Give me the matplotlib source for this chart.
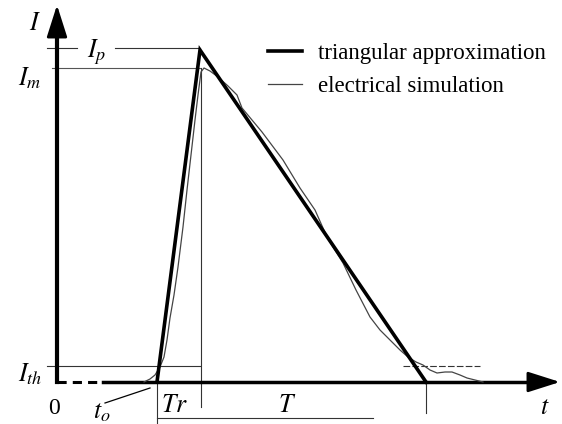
import matplotlib
matplotlib.use("Agg")
import matplotlib.pyplot as plt

plt.rcParams["font.family"] = ["Liberation Serif", "DejaVu Serif"]
plt.rcParams["mathtext.fontset"] = "stix"

# Triangular approximation of the current pulse (time, current)
t0 = 1.00      # start of pulse
t_peak = 1.43  # end of rise time Tr
t_end = 3.69   # end of decay
I_p = 3.32     # peak of triangular approximation
I_m = 3.14     # maximum of simulated current
I_th = 0.16    # threshold current

tri_t = [t0, t_peak, t_end]
tri_I = [0.0, I_p, 0.0]

# Electrical simulation of the same pulse
sim_t = [0.87, 0.93, 0.98, 1.03, 1.07, 1.10, 1.13, 1.17, 1.21, 1.26, 1.30,
         1.34, 1.38, 1.41, 1.44, 1.47, 1.53, 1.61, 1.71, 1.80, 1.85, 2.05,
         2.26, 2.43, 2.58, 2.70, 2.76, 2.86, 2.99, 3.13, 3.23, 3.35, 3.43,
         3.51, 3.59, 3.66, 3.73, 3.80, 3.88, 3.95, 4.03, 4.10, 4.18, 4.26]
sim_I = [0.00, 0.03, 0.07, 0.15, 0.25, 0.42, 0.64, 0.87, 1.15, 1.55, 1.92,
         2.27, 2.62, 2.87, 3.10, 3.14, 3.11, 3.05, 2.96, 2.87, 2.74, 2.50,
         2.22, 1.94, 1.72, 1.45, 1.35, 1.19, 0.92, 0.65, 0.52, 0.40, 0.32,
         0.25, 0.20, 0.17, 0.12, 0.09, 0.10, 0.10, 0.07, 0.04, 0.02, 0.00]

series_labels = ["triangular approximation", "electrical simulation"]

fig = plt.figure(figsize=(5.62, 4.24), dpi=100)
ax = fig.add_axes([0, 0, 1, 1])
ax.set_xlim(-0.57, 5.05)
ax.set_ylim(-0.42, 3.82)
ax.axis("off")

thin = dict(color="#333333", lw=0.8)

# reference levels
ax.plot([-0.10, 0.20], [I_p + 0.02, I_p + 0.02], **thin)
ax.plot([0.58, t_peak], [I_p + 0.02, I_p + 0.02], **thin)
ax.plot([-0.05, t_peak], [I_m, I_m], color="#555555", lw=0.8)
ax.plot([-0.10, t_peak], [I_th, I_th], **thin)
ax.plot([3.46, 4.23], [I_th, I_th], color="#333333", lw=0.8, ls=(0, (6, 2)))

# vertical markers and time brackets
ax.plot([t_peak + 0.01, t_peak + 0.01], [I_m, -0.25], **thin)
ax.plot([t0, t0], [0, -0.42], **thin)
ax.plot([t_end, t_end], [0, -0.31], **thin)
ax.plot([t0, 3.16], [-0.36, -0.36], **thin)

# axes with arrows
head = "-|>,head_length=1.1,head_width=0.35"
ax.plot([0, 0.46], [0, 0], color="black", lw=2.2, ls=(0, (3, 2)))
ax.plot([0.46, 4.86], [0, 0], color="black", lw=2.5)
ax.annotate("", xy=(5.03, 0), xytext=(4.82, 0),
            arrowprops=dict(arrowstyle=head, color="black", lw=2.0,
                            mutation_scale=18, shrinkA=0, shrinkB=0))
ax.plot([0, 0], [0, 3.50], color="black", lw=3.0)
ax.annotate("", xy=(0, 3.77), xytext=(0, 3.52),
            arrowprops=dict(arrowstyle=head, color="black", lw=2.0,
                            mutation_scale=18, shrinkA=0, shrinkB=0))

# curves
ax.plot(sim_t, sim_I, color="#444444", lw=0.9, label=series_labels[1], zorder=3)
ax.plot(tri_t, tri_I, color="black", lw=2.6, solid_joinstyle="miter",
        label=series_labels[0], zorder=4)

handles, labels = ax.get_legend_handles_labels()
ax.legend(handles[::-1], labels[::-1], loc="upper left",
          bbox_to_anchor=(268 / 562, 1 - 43 / 424), frameon=False,
          fontsize=16.5, handlelength=1.5, handletextpad=0.7,
          labelspacing=0.5, borderpad=0, borderaxespad=0)

# annotations
fs = 18.5
ax.text(-0.22, 3.58, r"$I$", fontsize=fs, ha="center", va="center")
ax.text(0.40, 3.30, r"$I_p$", fontsize=fs, ha="center", va="center")
ax.text(-0.27, 3.04, r"$I_m$", fontsize=fs, ha="center", va="center")
ax.text(-0.27, 0.08, r"$I_{th}$", fontsize=fs, ha="center", va="center")
ax.text(-0.03, -0.26, "0", fontsize=17, ha="center", va="center")
ax.text(0.45, -0.31, r"$t_o$", fontsize=fs, ha="center", va="center")
ax.plot([0.48, 0.93], [-0.21, -0.06], color="black", lw=0.9)
ax.text(1.17, -0.24, r"$Tr$", fontsize=fs, ha="center", va="center")
ax.text(2.30, -0.24, r"$T$", fontsize=fs, ha="center", va="center")
ax.text(4.88, -0.26, r"$t$", fontsize=fs, ha="center", va="center")

fig.savefig("out.png", dpi=100)
